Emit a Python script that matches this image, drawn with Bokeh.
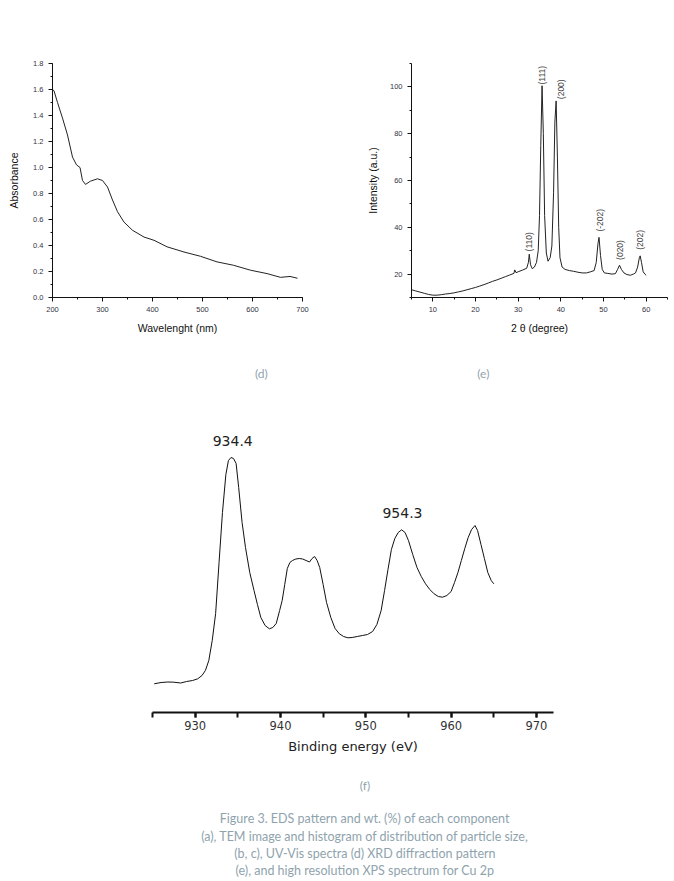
import math
from bokeh.plotting import figure
from bokeh.models import Range1d, SingleIntervalTicker, PrintfTickFormatter
from bokeh.layouts import column, row
from bokeh.core.properties import value
from bokeh.embed import file_html
from bokeh.resources import INLINE

# ---------------- data ----------------
# (d) UV-Vis
uv_wavelength = [200, 203, 210, 220, 230, 240, 248, 255, 260, 266, 276, 290, 300, 310, 320, 330, 343,
                 360, 383, 403, 429, 463, 496, 529, 562, 596, 629, 656, 675, 690]
uv_absorbance = [1.60, 1.59, 1.50, 1.38, 1.25, 1.08, 1.02, 1.00, 0.90, 0.87, 0.895, 0.913, 0.90, 0.85, 0.75,
                 0.66, 0.58, 0.517, 0.465, 0.44, 0.39, 0.35, 0.317, 0.274, 0.248, 0.21, 0.184, 0.155, 0.162, 0.148]

# (e) XRD
xrd_2theta = [5, 6, 7, 8, 9, 10, 11, 12, 13, 14, 15, 16, 17, 18, 19, 20, 21, 22, 23, 24, 25, 26, 27, 28,
              29, 29.2, 29.5, 30, 31, 32.0, 32.4, 32.6, 32.9, 33.3, 33.8, 34.3, 34.7, 35.0, 35.3, 35.6,
              35.9, 36.2, 36.6, 37.0, 37.5, 37.9, 38.3, 38.6, 38.9, 39.2, 39.5, 39.8, 40.3, 41, 42, 43,
              44, 45, 46, 47, 47.8, 48.3, 48.7, 48.95, 49.3, 49.7, 50.2, 51, 52, 52.8, 53.3, 53.75, 54.2,
              54.8, 55.5, 56.3, 57.0, 57.5, 58.0, 58.4, 58.6, 58.9, 59.3, 59.7, 60]
xrd_intensity = [13.3, 12.8, 12.3, 11.8, 11.3, 11.0, 11.0, 11.2, 11.5, 11.7, 12.0, 12.4, 12.8, 13.3, 13.8,
                 14.3, 14.9, 15.5, 16.2, 16.9, 17.5, 18.2, 18.9, 19.6, 20.3, 21.8, 20.6, 21.0, 21.7, 22.5,
                 25.0, 28.5, 24.0, 22.3, 23.0, 25.0, 30.0, 45.0, 75.0, 100.5, 80.0, 45.0, 29.0, 25.5, 27.0,
                 32.0, 55.0, 85.0, 94.0, 70.0, 40.0, 27.0, 23.0, 22.0, 21.5, 21.2, 20.8, 20.5, 20.5, 21.0,
                 21.5, 25.0, 33.0, 35.7, 28.0, 22.0, 20.5, 20.3, 20.0, 20.2, 22.0, 23.8, 22.0, 20.5, 19.8,
                 19.5, 20.0, 20.5, 23.0, 27.0, 27.8, 25.0, 21.0, 20.0, 19.5]
xrd_peak_labels = ["(110)", "(111)", "(200)", "(-202)", "(020)", "(202)"]
xrd_label_x = [32.6, 35.6, 40.0, 49.2, 53.9, 58.6]
xrd_label_y = [33.8, 105.0, 99.0, 43.0, 30.3, 34.6]

# (f) XPS Cu 2p
xps_be = [925.2, 926.0, 926.8, 927.5, 928.3, 929.0, 929.7, 930.3, 930.8, 931.2, 931.6, 932.0, 932.4, 932.8,
          933.2, 933.6, 933.9, 934.2, 934.5, 934.8, 935.1, 935.5, 935.9, 936.4, 936.9, 937.3, 937.7, 938.2,
          938.7, 939.1, 939.5, 939.9, 940.2, 940.5, 940.8, 941.1, 941.4, 941.8, 942.2, 942.6, 943.0, 943.4,
          943.7, 944.0, 944.3, 944.6, 945.0, 945.4, 945.9, 946.4, 946.9, 947.4, 947.9, 948.4, 949.0, 949.6,
          950.2, 950.8, 951.3, 951.8, 952.2, 952.6, 953.0, 953.4, 953.8, 954.2, 954.6, 955.0, 955.5, 956.0,
          956.5, 957.0, 957.5, 958.0, 958.5, 959.0, 959.5, 960.0, 960.4, 960.8, 961.2, 961.6, 962.0, 962.4,
          962.8, 963.1, 963.5, 963.9, 964.3, 964.7, 965.0]
xps_counts = [28.7, 30.0, 30.5, 30.3, 29.5, 31.0, 32.0, 33.7, 37.0, 42.0, 52.0, 72.0, 99.0, 150.0, 200.0,
              238.0, 252.0, 255.0, 254.0, 249.0, 225.0, 190.0, 165.0, 140.0, 122.0, 108.0, 95.0, 87.0, 83.7,
              85.0, 89.0, 102.0, 112.0, 128.0, 144.0, 150.0, 152.0, 153.5, 154.0, 153.5, 152.0, 150.5, 154.0,
              156.0, 152.0, 145.0, 128.0, 110.0, 95.0, 84.0, 78.7, 76.0, 74.7, 75.0, 76.0, 77.0, 78.0, 81.0,
              88.0, 102.0, 122.0, 143.0, 163.0, 174.0, 180.0, 182.7, 180.0, 172.0, 158.0, 145.0, 136.0, 128.7,
              123.0, 118.7, 116.0, 115.3, 117.0, 121.0, 130.0, 140.0, 152.0, 164.0, 175.0, 183.0, 187.0,
              182.0, 168.0, 154.0, 140.0, 132.0, 128.7]
xps_peak_labels = ["934.4", "954.3"]
xps_label_x = [934.4, 954.3]
xps_label_y = [272.0, 200.0]

panel_labels_top = ["(d)", "(e)"]
caption_lines = [
    "Figure 3. EDS pattern and wt. (%) of each component",
    "(a), TEM image and histogram of distribution of particle size,",
    "(b, c), UV-Vis spectra (d) XRD diffraction pattern",
    "(e), and high resolution XPS spectrum for Cu 2p",
]

CAPTION_COLOR = "#8fa3ad"
AX_FONT = "Liberation Sans"


def clean(p):
    p.outline_line_color = None
    p.grid.visible = False
    p.background_fill_color = "white"
    p.border_fill_color = "white"


def style_small_axis(ax, label_standoff):
    ax.axis_line_color = "#111111"
    ax.axis_line_width = 1
    ax.major_tick_line_color = "#111111"
    ax.minor_tick_line_color = "#111111"
    ax.major_tick_in = 0
    ax.major_tick_out = 4
    ax.minor_tick_in = 0
    ax.minor_tick_out = 2
    ax.major_label_standoff = 5
    ax.major_label_text_font = AX_FONT
    ax.major_label_text_font_size = "7.5px"
    ax.major_label_text_color = "#333344"
    ax.axis_label_text_font = AX_FONT
    ax.axis_label_text_font_size = "10.5px"
    ax.axis_label_text_font_style = "normal"
    ax.axis_label_text_color = "#111111"
    ax.axis_label_standoff = label_standoff


# ---------------- (d) UV-Vis ----------------
pd_ = figure(width=337, height=345, x_range=Range1d(200, 700), y_range=Range1d(0, 1.8),
             output_backend="svg", toolbar_location=None,
             min_border_left=52, min_border_right=35, min_border_top=63, min_border_bottom=48)
clean(pd_)
pd_.line(uv_wavelength, uv_absorbance, line_color="#222222", line_width=1)
pd_.xaxis.ticker = SingleIntervalTicker(interval=100, num_minor_ticks=2)
pd_.yaxis.ticker = SingleIntervalTicker(interval=0.2, num_minor_ticks=2)
pd_.yaxis.formatter = PrintfTickFormatter(format="%.1f")
pd_.xaxis.axis_label = "Wavelenght (nm)"
pd_.yaxis.axis_label = "Absorbance"
style_small_axis(pd_.xaxis[0], 7)
style_small_axis(pd_.yaxis[0], 10)

# ---------------- (e) XRD ----------------
pe = figure(width=337, height=345, x_range=Range1d(5, 65), y_range=Range1d(10, 110),
            output_backend="svg", toolbar_location=None,
            min_border_left=74, min_border_right=7, min_border_top=50, min_border_bottom=48)
clean(pe)
pe.line(xrd_2theta, xrd_intensity, line_color="#222222", line_width=1)
pe.text(x=xrd_label_x, y=xrd_label_y, text=xrd_peak_labels, angle=math.pi / 2,
        text_align="center", text_baseline="middle", text_font=value(AX_FONT),
        text_font_size="8.5px", text_color="#444444")
pe.xaxis.ticker = SingleIntervalTicker(interval=10, num_minor_ticks=2)
pe.yaxis.ticker = SingleIntervalTicker(interval=20, num_minor_ticks=2)
pe.xaxis.axis_label = "2 θ (degree)"
pe.yaxis.axis_label = "Intensity (a.u.)"
style_small_axis(pe.xaxis[0], 7)
style_small_axis(pe.yaxis[0], 8)

# ---------------- labels (d) (e) ----------------
pl = figure(width=674, height=55, x_range=Range1d(0, 674), y_range=Range1d(55, 0),
            output_backend="svg", toolbar_location=None, x_axis_type=None, y_axis_type=None,
            min_border=0, min_border_left=0, min_border_right=0, min_border_top=0, min_border_bottom=0)
clean(pl)
pl.text(x=[183, 556], y=[28, 28], text=panel_labels_top, text_align="center", text_baseline="middle",
        text_font=value("Lato"), text_font_size="12px", text_color=CAPTION_COLOR)

# ---------------- (f) XPS ----------------
pf = figure(width=674, height=360, x_range=Range1d(925, 972), y_range=Range1d(0, 282),
            output_backend="svg", toolbar_location=None,
            min_border_left=152, min_border_right=121, min_border_top=30, min_border_bottom=48)
clean(pf)
pf.line(xps_be, xps_counts, line_color="#111111", line_width=1)
pf.text(x=xps_label_x, y=xps_label_y, text=xps_peak_labels, text_align="center", text_baseline="middle",
        text_font=value("DejaVu Sans"), text_font_size="14px", text_color="#222222")
pf.yaxis.visible = False
ax = pf.xaxis[0]
ax.ticker = SingleIntervalTicker(interval=10, num_minor_ticks=2)
ax.axis_label = "Binding energy (eV)"
ax.axis_line_color = "#111111"
ax.axis_line_width = 2
ax.major_tick_line_color = "#111111"
ax.minor_tick_line_color = "#111111"
ax.major_tick_line_width = 2
ax.minor_tick_line_width = 2
ax.major_tick_in = 0
ax.major_tick_out = 5
ax.minor_tick_in = 0
ax.minor_tick_out = 5
ax.major_label_standoff = 3
ax.major_label_text_font = "DejaVu Sans"
ax.major_label_text_font_size = "11.5px"
ax.major_label_text_color = "#333333"
ax.axis_label_text_font = "DejaVu Sans"
ax.axis_label_text_font_size = "13px"
ax.axis_label_text_font_style = "normal"
ax.axis_label_text_color = "#222222"
ax.axis_label_standoff = 6

# ---------------- caption ----------------
pc = figure(width=674, height=121, x_range=Range1d(0, 674), y_range=Range1d(121, 0),
            output_backend="svg", toolbar_location=None, x_axis_type=None, y_axis_type=None,
            min_border=0, min_border_left=0, min_border_right=0, min_border_top=0, min_border_bottom=0)
clean(pc)
pc.text(x=[357], y=[25], text=["(f)"], text_align="center", text_baseline="middle",
        text_font=value("Lato"), text_font_size="12px", text_color=CAPTION_COLOR)
pc.text(x=[357] * len(caption_lines), y=[58, 76, 93, 110], text=caption_lines,
        text_align="center", text_baseline="middle",
        text_font=value("Lato"), text_font_size="12.5px", text_color=CAPTION_COLOR)

layout = column(row(pd_, pe, spacing=0), pl, pf, pc, spacing=0)
open("out.html", "w").write(file_html(layout, INLINE))
